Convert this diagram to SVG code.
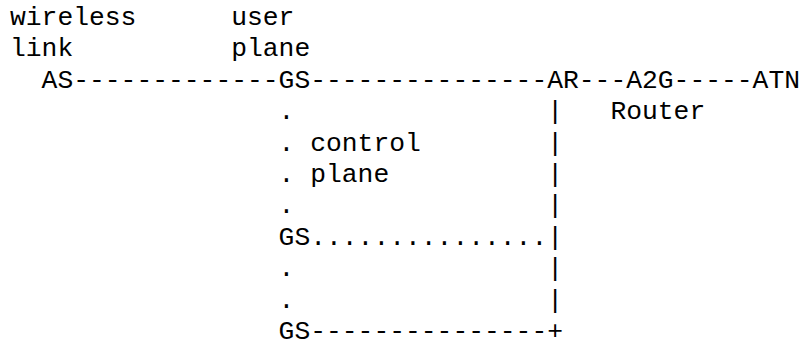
<svg xmlns="http://www.w3.org/2000/svg" width="803" height="347" viewBox="0 0 803 347">
<style>
text{font-family:"Liberation Mono","Courier New",monospace;font-size:26.33px;fill:#000;white-space:pre}
</style>
<rect width="803" height="347" fill="#fff"/>
<g id="labels">
<text x="10" y="25">wireless</text>
<text x="10" y="56.4">link</text>
<text x="231.2" y="25">user</text>
<text x="231.2" y="56.4">plane</text>
<text x="310.2" y="150.6">control</text>
<text x="310.2" y="182">plane</text>
</g>
<g id="connectors">
<text x="73.2" y="87.8">-------------</text>
<text x="310.2" y="87.8">---------------</text>
<text x="578.8" y="87.8">---</text>
<text x="673.6" y="87.8">-----</text>
<text x="278.6" y="119.2">.</text>
<text x="278.6" y="150.6">.</text>
<text x="278.6" y="182">.</text>
<text x="278.6" y="213.4">.</text>
<text x="278.6" y="276.2">.</text>
<text x="278.6" y="307.6">.</text>
<text x="310.2" y="244.8">...............</text>
<text x="310.2" y="339">---------------</text>
<text x="547.2" y="119.2">|</text>
<text x="547.2" y="150.6">|</text>
<text x="547.2" y="182">|</text>
<text x="547.2" y="213.4">|</text>
<text x="547.2" y="244.8">|</text>
<text x="547.2" y="276.2">|</text>
<text x="547.2" y="307.6">|</text>
<text x="547.2" y="339">+</text>
</g>
<g id="node-AS"><text x="41.6" y="87.8">AS</text></g>
<g id="node-GS1"><text x="278.6" y="87.8">GS</text></g>
<g id="node-GS2"><text x="278.6" y="244.8">GS</text></g>
<g id="node-GS3"><text x="278.6" y="339">GS</text></g>
<g id="node-AR"><text x="547.2" y="87.8">AR</text></g>
<g id="node-A2G"><text x="626.2" y="87.8">A2G</text><text x="610.4" y="119.2">Router</text></g>
<g id="node-ATN"><text x="752.6" y="87.8">ATN</text></g>
</svg>
